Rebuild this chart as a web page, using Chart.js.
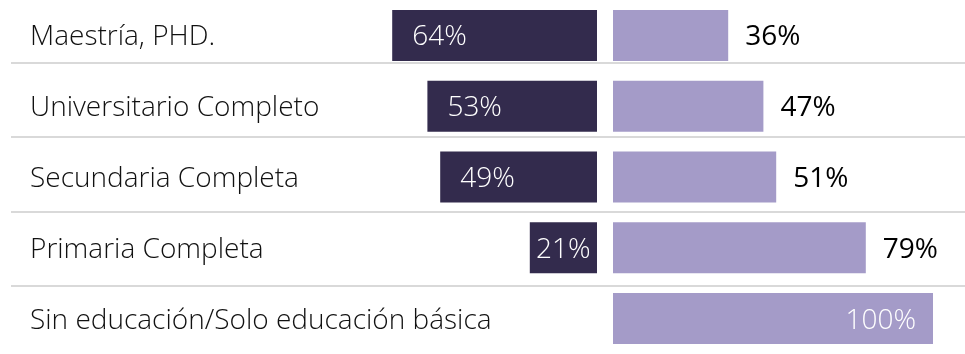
<!DOCTYPE html>
<html lang="es">
<head>
<meta charset="utf-8">
<title>Nivel educativo</title>
<script src="https://cdn.jsdelivr.net/npm/chart.js@4.4.1/dist/chart.umd.min.js"></script>
<style>
  html, body { margin: 0; padding: 0; background: #ffffff; }
  .chart-container { position: relative; width: 965px; height: 354px; }
</style>
</head>
<body>
<div class="chart-container">
  <canvas id="chart"></canvas>
</div>
<script>
// Categories and the two shares (%) for each row
const categories = [
  'Maestría, PHD.',
  'Universitario Completo',
  'Secundaria Completa',
  'Primaria Completa',
  'Sin educación/Solo educación básica',
];
const leftShare = [64, 53, 49, 21, 0];
const rightShare = [36, 47, 51, 79, 100];

// Row separators, in category units (between the rows)
const rowLines = [0.39, 1.435, 2.495, 3.54];

const darkColor = '#332b4d';
const lightColor = '#a49bc8';
const fontFamily = '"Open Sans", "Noto Sans", sans-serif';
const fontSize = 28;

// Thin grey lines between the rows
const separators = {
  id: 'separators',
  beforeDatasetsDraw(chart) {
    const { ctx, scales } = chart;
    ctx.save();
    ctx.strokeStyle = '#d9d9d9';
    ctx.lineWidth = 2;
    rowLines.forEach(pos => {
      const y = Math.round(scales.y.getPixelForValue(pos));
      ctx.beginPath();
      ctx.moveTo(11, y);
      ctx.lineTo(chart.width, y);
      ctx.stroke();
    });
    ctx.restore();
  },
};

// Percent labels on / next to each bar
const valueLabels = {
  id: 'valueLabels',
  afterDatasetsDraw(chart) {
    const { ctx, chartArea } = chart;
    ctx.save();
    ctx.textBaseline = 'middle';
    chart.data.datasets.forEach((ds, di) => {
      const meta = chart.getDatasetMeta(di);
      meta.data.forEach((bar, i) => {
        const v = ds.data[i];
        if (!v) return;
        const text = v + '%';
        const left = Math.min(bar.x, bar.base);
        const right = Math.max(bar.x, bar.base);
        const y = bar.y + 2;

        if (di === 0) {
          // dark bars: white text near the outer end
          ctx.font = `300 ${fontSize}px ${fontFamily}`;
          ctx.fillStyle = '#ffffff';
          const w = ctx.measureText(text).width;
          if (right - left >= w + 40) {
            ctx.textAlign = 'left';
            ctx.fillText(text, left + 20, y);
          } else {
            ctx.textAlign = 'center';
            ctx.fillText(text, (left + right) / 2, y);
          }
        } else {
          // light bars: black text after the bar, white inside if no room
          ctx.font = `400 ${fontSize}px ${fontFamily}`;
          const w = ctx.measureText(text).width;
          if (right + 17 + w > chartArea.right) {
            ctx.font = `300 ${fontSize}px ${fontFamily}`;
            ctx.fillStyle = '#ffffff';
            ctx.textAlign = 'right';
            ctx.fillText(text, right - 17, y);
          } else {
            ctx.fillStyle = '#000000';
            ctx.textAlign = 'left';
            ctx.fillText(text, right + 17, y);
          }
        }
      });
    });
    ctx.restore();
  },
};

const data = {
  labels: categories,
  datasets: [
    {
      label: 'Izquierda',
      data: leftShare,
      xAxisID: 'xLeft',
      backgroundColor: darkColor,
    },
    {
      label: 'Derecha',
      data: rightShare,
      xAxisID: 'xRight',
      backgroundColor: lightColor,
    },
  ],
};

const config = {
  type: 'bar',
  data: data,
  options: {
    indexAxis: 'y',
    responsive: true,
    maintainAspectRatio: false,
    animation: false,
    layout: { padding: { left: 5, right: 0, top: 0, bottom: 0 } },
    datasets: {
      bar: {
        grouped: false,
        categoryPercentage: 1,
        barPercentage: 0.72,
        borderWidth: 0,
      },
    },
    plugins: {
      legend: { display: false },
      tooltip: { enabled: false },
    },
    scales: {
      y: {
        type: 'category',
        grid: { display: false },
        border: { display: false },
        // labels sit inside the plot, so the axis takes no room
        afterFit: scale => {
          scale.width = 0;
          scale.paddingTop = 0;
          scale.paddingBottom = 0;
        },
        ticks: {
          mirror: true,
          padding: 25,
          labelOffset: 2,
          color: '#111111',
          font: { family: fontFamily, size: fontSize, weight: 300 },
        },
      },
      // dark bars grow to the left from their own zero
      xLeft: {
        type: 'linear',
        display: false,
        reverse: true,
        min: -115,
        max: 185,
      },
      xRight: {
        type: 'linear',
        display: false,
        min: -190,
        max: 110,
      },
    },
  },
  plugins: [separators, valueLabels],
};

new Chart(document.getElementById('chart').getContext('2d'), config);
</script>
</body>
</html>
